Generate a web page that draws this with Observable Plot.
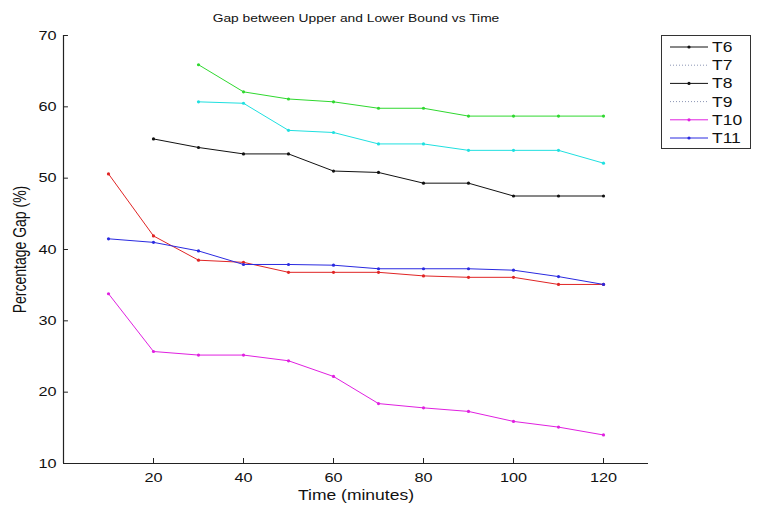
<!DOCTYPE html>
<html>
<head>
<meta charset="utf-8">
<script src="https://cdn.jsdelivr.net/npm/d3@7"></script>
<script src="https://cdn.jsdelivr.net/npm/@observablehq/plot@0.6"></script>
<style>
  html, body { margin: 0; padding: 0; background: #fff; }
  #chart { position: relative; width: 759px; height: 508px; font-family: "Liberation Sans", Arial, sans-serif; }
  #legend { position: absolute; left: 661px; top: 35px; }
</style>
</head>
<body>
<div id="chart">
  <div id="legend"></div>
</div>
<script>
// Sample times (minutes)
const times = [10, 20, 30, 40, 50, 60, 70, 80, 90, 100, 110, 120];

// Percentage gap per run; null where a run has no value yet
const gapBlack   = [null, 55.5, 54.3, 53.4, 53.4, 51.0, 50.8, 49.3, 49.3, 47.5, 47.5, 47.5];
const gapGreen   = [null, null, 65.9, 62.1, 61.1, 60.7, 59.8, 59.8, 58.7, 58.7, 58.7, 58.7];
const gapCyan    = [null, null, 60.7, 60.5, 56.7, 56.4, 54.8, 54.8, 53.9, 53.9, 53.9, 52.1];
const gapRed     = [50.6, 41.9, 38.5, 38.2, 36.8, 36.8, 36.8, 36.3, 36.1, 36.1, 35.1, 35.1];
const gapMagenta = [33.8, 25.7, 25.2, 25.2, 24.4, 22.2, 18.4, 17.8, 17.3, 15.9, 15.1, 14.0];
const gapBlue    = [41.5, 41.0, 39.8, 37.9, 37.9, 37.8, 37.3, 37.3, 37.3, 37.1, 36.2, 35.1];

// Axis ticks
const xTicks = [20, 40, 60, 80, 100, 120];
const yTicks = [10, 20, 30, 40, 50, 60, 70];

// Legend entries
const legendLabels = ["T6", "T7", "T8", "T9", "T10", "T11"];
const legendColors = ["#111111", "#8c96b4", "#111111", "#8c96b4", "#e020e0", "#2a2ae0"];
const legendDotted = [false, true, false, true, false, false];

const chartTitle = "Gap between Upper and Lower Bound vs Time";

const series = [
  {name: "black",   color: "#111111", values: gapBlack},
  {name: "green",   color: "#2fd82f", values: gapGreen},
  {name: "cyan",    color: "#1fe0e0", values: gapCyan},
  {name: "red",     color: "#e02424", values: gapRed},
  {name: "magenta", color: "#e020e0", values: gapMagenta},
  {name: "blue",    color: "#2a2ae0", values: gapBlue}
];

const rows = series.flatMap(s => times.map((t, i) => ({t, v: s.values[i], name: s.name, color: s.color})));
const pts = rows.filter(d => d.v != null);

const axisColor = "#222";
const fontFamily = "'Liberation Sans', Arial, sans-serif";

const chart = Plot.plot({
  width: 759,
  height: 508,
  marginLeft: 63,
  marginRight: 111,
  marginTop: 35,
  marginBottom: 45,
  style: {fontFamily, fontSize: "13px", color: "#111", background: "transparent"},
  x: {domain: [0, 130], ticks: xTicks, tickSize: 0, tickPadding: 9, label: null},
  y: {domain: [10, 70], ticks: yTicks, tickSize: 0, tickPadding: 7, label: null},
  marks: [
    // axis lines
    Plot.ruleY([10], {x1: 0, x2: 130, stroke: axisColor, strokeWidth: 1.2}),
    Plot.ruleX([0], {y1: 10, y2: 70, stroke: axisColor, strokeWidth: 1.2}),
    // inward tick marks
    Plot.ruleX(xTicks, {y1: 10, y2: 10.7, stroke: axisColor}),
    Plot.ruleY(yTicks, {x1: 0, x2: 1.1, stroke: axisColor}),
    // series
    ...series.map(s => Plot.line(rows.filter(d => d.name === s.name), {x: "t", y: "v", stroke: s.color, strokeWidth: 1})),
    Plot.dot(pts, {x: "t", y: "v", r: 1.6, fill: "color", stroke: "none"}),
    // titles
    Plot.text([chartTitle], {frameAnchor: "top", lineAnchor: "middle", dy: -17, fontSize: 11.5}),
    Plot.text(["Time (minutes)"], {frameAnchor: "bottom", lineAnchor: "middle", dy: 32, fontSize: 14}),
    Plot.text(["Percentage Gap (%)"], {frameAnchor: "left", textAnchor: "middle", lineAnchor: "middle", dx: -43, rotate: -90, fontSize: 14})
  ]
});
chart.style.position = "absolute";
chart.style.left = "0px";
chart.style.top = "0px";
document.getElementById("chart").prepend(chart);

// Legend box
const lw = 89, lh = 113;
const lg = d3.select("#legend").append("svg").attr("width", lw + 2).attr("height", lh + 2);
lg.append("rect").attr("x", 0.5).attr("y", 0.5).attr("width", lw).attr("height", lh)
  .attr("fill", "#fff").attr("stroke", "#333");
legendLabels.forEach((lab, i) => {
  const y = 12 + i * 18.2;
  lg.append("line").attr("x1", 9).attr("x2", 47).attr("y1", y).attr("y2", y)
    .attr("stroke", legendColors[i]).attr("stroke-width", 1)
    .attr("stroke-dasharray", legendDotted[i] ? "1,2" : null);
  if (!legendDotted[i]) lg.append("circle").attr("cx", 28).attr("cy", y).attr("r", 1.6).attr("fill", legendColors[i]);
  lg.append("text").attr("x", 51).attr("y", y).attr("dy", "0.36em")
    .attr("font-family", fontFamily).attr("font-size", 14).attr("fill", "#111").text(lab);
});

// Widen labels horizontally about their anchor point (wide glyphs of the exported figure)
function stretchText(root, pick) {
  root.querySelectorAll("text").forEach(t => {
    const sx = pick(t);
    const bb = t.getBBox();
    const anchor = getComputedStyle(t).textAnchor;
    const ax = anchor === "middle" ? bb.x + bb.width / 2 : anchor === "end" ? bb.x + bb.width : bb.x;
    const ay = bb.y + bb.height / 2;
    const list = t.transform.baseVal.consolidate();
    const m = list ? list.matrix : null;
    const px = m ? m.a * ax + m.c * ay + m.e : ax;
    const old = t.getAttribute("transform") || "";
    t.setAttribute("transform", `translate(${px},0) scale(${sx},1) translate(${-px},0) ${old}`);
  });
}
stretchText(chart, t => t.textContent === chartTitle ? 1.2 : 1.25);
stretchText(lg.node(), () => 1.25);
</script>
</body>
</html>
